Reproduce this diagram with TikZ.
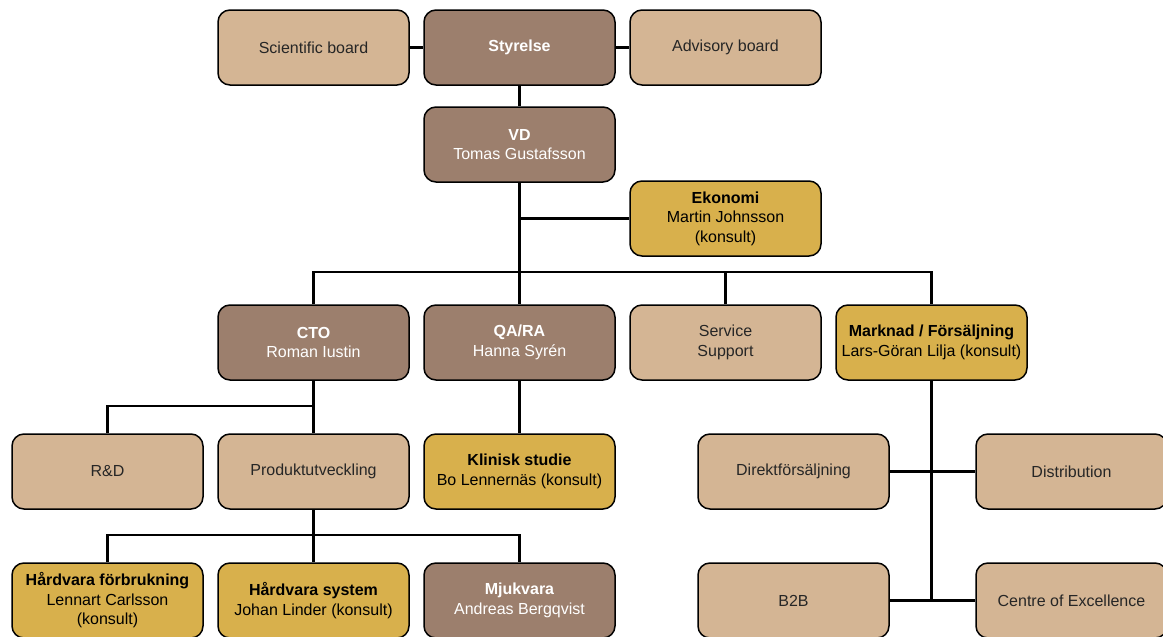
\documentclass[tikz,border=0pt]{standalone}
\usepackage{fontspec}
\setmainfont{Liberation Sans}
\definecolor{tan}{HTML}{D4B594}
\definecolor{brn}{HTML}{9C7F6D}
\definecolor{gld}{HTML}{D8B04C}
\begin{document}
\begin{tikzpicture}[x=1pt,y=-1pt,
  box/.style={draw=black,line width=1.5pt,rounded corners=12pt,minimum width=191pt,minimum height=75pt,
    align=center,inner sep=2pt,font=\fontsize{16}{19.5}\selectfont},
  tanbox/.style={box,fill=tan,text=black!85},
  brnbox/.style={box,fill=brn,text=white},
  gldbox/.style={box,fill=gld,text=black},
  conn/.style={draw=black,line width=2.5pt}]
\clip (0,0) rectangle (1163,637);
\fill[white] (0,0) rectangle (1163,637);

\node[tanbox] (sci) at (313.5,47.5) {Scientific board};
\node[brnbox] (sty) at (519.5,47.5) {\textbf{Styrelse}};
\node[tanbox] (adv) at (725.5,47.5) {Advisory board};
\node[brnbox] (vd) at (519.5,144.5) {\textbf{VD}\\Tomas Gustafsson};
\node[gldbox] (eko) at (725.5,218.5) {\textbf{Ekonomi}\\Martin Johnsson\\(konsult)};
\node[brnbox] (cto) at (313.5,342.5) {\textbf{CTO}\\Roman Iustin};
\node[brnbox] (qa) at (519.5,342.5) {\textbf{QA/RA}\\Hanna Syrén};
\node[tanbox] (serv) at (725.5,342.5) {Service\\Support};
\node[gldbox] (mark) at (931.5,342.5) {\textbf{Marknad / Försäljning}\\Lars-Göran Lilja (konsult)};
\node[tanbox] (rd) at (107.5,471.5) {R\&D};
\node[tanbox] (prod) at (313.5,471.5) {Produktutveckling};
\node[gldbox] (klin) at (519.5,471.5) {\textbf{Klinisk studie}\\Bo Lennernäs (konsult)};
\node[tanbox] (dir) at (793.5,471.5) {Direktförsäljning};
\node[tanbox] (dist) at (1071.5,471.5) {Distribution};
\node[gldbox] (hf) at (107.5,600.5) {\textbf{Hårdvara förbrukning}\\Lennart Carlsson\\(konsult)};
\node[gldbox] (hs) at (313.5,600.5) {\textbf{Hårdvara system}\\Johan Linder (konsult)};
\node[brnbox] (mju) at (519.5,600.5) {\textbf{Mjukvara}\\Andreas Bergqvist};
\node[tanbox] (b2b) at (793.5,600.5) {B2B};
\node[tanbox] (coe) at (1071.5,600.5) {Centre of Excellence};

\coordinate (bus) at (519.5,272);
\coordinate (j1) at (313.5,406);
\coordinate (j2) at (313.5,535);

\draw[conn] (sci.east) -- (sty.west);
\draw[conn] (sty.east) -- (adv.west);
\draw[conn] (sty.south) -- (vd.north);
\draw[conn] (vd.south) -- (qa.north);
\draw[conn] (vd.south |- eko.west) -- (eko.west);
\draw[conn] (cto.north) -- (cto.north |- bus) -- (mark.north |- bus) -- (mark.north);
\draw[conn] (serv.north) -- (serv.north |- bus);
\draw[conn] (cto.south) -- (prod.north);
\draw[conn] (rd.north) |- (j1);
\draw[conn] (qa.south) -- (klin.north);
\draw[conn] (prod.south) -- (hs.north);
\draw[conn] (hf.north) |- (j2) -| (mju.north);
\draw[conn] (mark.south) -- (mark.south |- b2b.east);
\draw[conn] (dir.east) -- (dist.west);
\draw[conn] (b2b.east) -- (coe.west);
\end{tikzpicture}
\end{document}
